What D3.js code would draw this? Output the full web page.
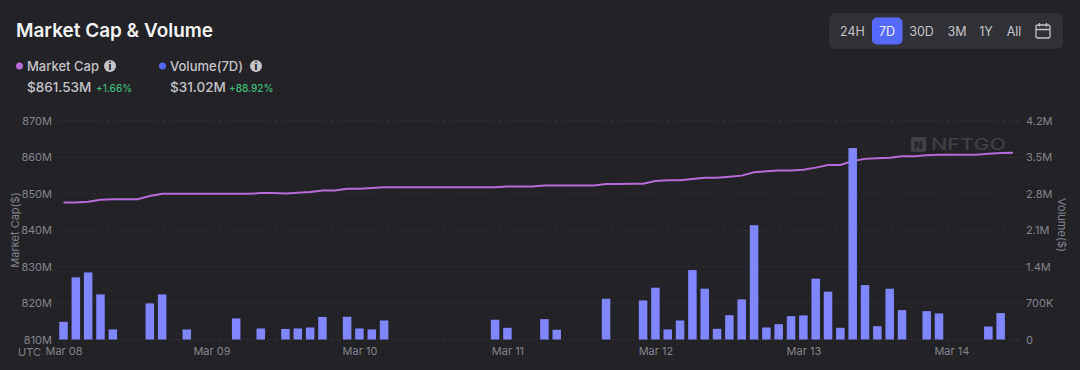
<!DOCTYPE html>
<html>
<head>
<meta charset="utf-8">
<script src="https://d3js.org/d3.v7.min.js"></script>
<style>
  html, body { margin: 0; padding: 0; background: #222227; overflow: hidden; }
  text { font-family: Inter, "Noto Sans", sans-serif; }
  .tick text { font-size: 11px; fill: #84848b; }
</style>
</head>
<body>
<div id="chart"></div>
<script>
// Values, one point every 2 hours
const dayLabels = ["Mar 08", "Mar 09", "Mar 10", "Mar 11", "Mar 12", "Mar 13", "Mar 14"];
const capTicks = [810, 820, 830, 840, 850, 860, 870];
const volTicks = [0, 700, 1400, 2100, 2800, 3500, 4200];
const ranges = ["24H", "7D", "30D", "3M", "1Y", "All"];

// market cap in $M
const marketCap = [
  847.6, 847.6, 847.8, 848.4, 848.5, 848.5, 848.5, 849.4, 850, 850, 850, 850,
  850, 850, 850, 850, 850.2, 850.2, 850.1, 850.3, 850.5, 850.9, 850.9, 851.4,
  851.4, 851.6, 851.8, 851.8, 851.8, 851.8, 851.8, 851.8, 851.8, 851.8, 851.8, 851.8,
  852, 852, 852, 852.3, 852.3, 852.3, 852.3, 852.3, 852.7, 852.7, 852.8, 852.8,
  853.5, 853.7, 853.7, 854.1, 854.4, 854.4, 854.7, 855, 855.9, 856.2, 856.4, 856.4,
  856.6, 857.2, 857.9, 857.9, 859, 859.6, 859.8, 859.9, 860.3, 860.3, 860.6, 860.7,
  860.7, 860.7, 860.7, 861, 861.2, 861.3
];

// volume in $K
const volume = [
  340, 1195, 1290, 867, 193, 0, 0, 694, 867, 0, 193, 0,
  0, 0, 405, 0, 212, 0, 202, 212, 231, 434, 0, 437,
  212, 193, 366, 0, 0, 0, 0, 0, 0, 0, 0, 380,
  225, 0, 0, 391, 187, 0, 0, 0, 784, 0, 0, 751,
  996, 193, 366, 1335, 977, 206, 468, 771, 2197, 231, 295, 449,
  462, 1170, 919, 225, 3680, 1046, 256, 977, 565, 0, 545, 501,
  0, 0, 0, 250, 507, 0
];

const width = 1080, height = 370;
const bg = "#222227", capColor = "#b86cd9", volColor = "#7f86ff", accent = "#5669ff";
const green = "#3fbf78", soft = "#c4c4c8";

const svg = d3.select("#chart").append("svg")
  .attr("width", width)
  .attr("height", height)
  .style("display", "block")
  .style("background", bg);

// Scales
const x = d3.scaleLinear().domain([0, marketCap.length - 1]).range([63.5, 1013]);
const yCap = d3.scaleLinear().domain([810, 870]).range([339.5, 121]);
const yVol = d3.scaleLinear().domain([0, 4200]).range([339.5, 121]);

// Grid
svg.append("g").selectAll("line")
  .data(capTicks)
  .join("line")
  .attr("x1", 57)
  .attr("x2", 1020)
  .attr("y1", d => yCap(d))
  .attr("y2", d => yCap(d))
  .attr("stroke", "#303037")
  .attr("stroke-dasharray", "4 3");

// Axes
const leftAxis = svg.append("g")
  .attr("transform", "translate(52,0)")
  .call(d3.axisLeft(yCap).tickValues(capTicks).tickSize(0).tickPadding(0).tickFormat(d => d + "M"));
leftAxis.select(".domain").remove();

const rightAxis = svg.append("g")
  .attr("transform", "translate(1026,0)")
  .call(d3.axisRight(yVol).tickValues(volTicks).tickSize(0).tickPadding(0)
    .tickFormat(d => d === 0 ? "0" : d < 1000 ? d + "K" : (d / 1000) + "M"));
rightAxis.select(".domain").remove();

const bottomAxis = svg.append("g")
  .attr("transform", "translate(0,347)")
  .call(d3.axisBottom(x).tickValues(dayLabels.map((d, i) => i * 12)).tickSize(0).tickPadding(0)
    .tickFormat((d, i) => dayLabels[i]));
bottomAxis.select(".domain").remove();

svg.append("text")
  .attr("x", 18).attr("y", 356)
  .attr("font-size", 11).attr("fill", "#84848b")
  .text("UTC");

svg.append("text")
  .attr("transform", "translate(19,230) rotate(-90)")
  .attr("text-anchor", "middle")
  .attr("font-size", 11).attr("fill", "#84848b")
  .text("Market Cap($)");

svg.append("text")
  .attr("transform", "translate(1058,225) rotate(90)")
  .attr("text-anchor", "middle")
  .attr("font-size", 11).attr("fill", "#84848b")
  .text("Volume($)");

// Watermark
const mark = svg.append("g").attr("opacity", 0.75);
mark.append("rect")
  .attr("x", 911).attr("y", 137).attr("width", 15).attr("height", 15).attr("rx", 2)
  .attr("fill", "#4a4a50");
mark.append("text")
  .attr("x", 918.5).attr("y", 149)
  .attr("text-anchor", "middle")
  .attr("font-size", 11).attr("font-weight", 800).attr("fill", "#222227")
  .text("N");
mark.append("text")
  .attr("x", 931).attr("y", 150)
  .attr("font-size", 15.5).attr("font-weight", 500)
  .attr("textLength", 75).attr("lengthAdjust", "spacingAndGlyphs")
  .attr("fill", "#4a4a50")
  .text("NFTGO");

// Market cap line
const capLine = d3.line()
  .x((d, i) => x(i))
  .y(d => yCap(d));

svg.append("path")
  .datum(marketCap)
  .attr("d", capLine)
  .attr("fill", "none")
  .attr("stroke", capColor)
  .attr("stroke-width", 2);

// Volume bars, drawn over the line like the original
svg.append("g").selectAll("rect")
  .data(volume)
  .join("rect")
  .attr("x", (d, i) => x(i) - 4.25)
  .attr("width", 8.5)
  .attr("y", d => yVol(d))
  .attr("height", d => yVol(0) - yVol(d))
  .attr("fill", volColor);

// Title and legend
svg.append("text")
  .attr("x", 16).attr("y", 37)
  .attr("font-size", 19).attr("font-weight", 600).attr("fill", "#f4f4f6")
  .attr("textLength", 197).attr("lengthAdjust", "spacingAndGlyphs")
  .text("Market Cap & Volume");

function infoIcon(cx, cy) {
  svg.append("circle").attr("cx", cx).attr("cy", cy).attr("r", 6).attr("fill", soft);
  svg.append("text")
    .attr("x", cx).attr("y", cy + 3.5)
    .attr("text-anchor", "middle")
    .attr("font-size", 10).attr("font-weight", 800).attr("fill", bg)
    .text("i");
}

function legend(dotX, textX, label, value, change, changeX, infoX, color) {
  svg.append("circle").attr("cx", dotX).attr("cy", 66).attr("r", 3.5).attr("fill", color);
  svg.append("text")
    .attr("x", textX).attr("y", 70.5)
    .attr("font-size", 13).attr("font-weight", 500).attr("fill", soft)
    .text(label);
  infoIcon(infoX, 66);
  svg.append("text")
    .attr("x", textX).attr("y", 92)
    .attr("font-size", 13.5).attr("font-weight", 500).attr("fill", soft)
    .text(value);
  svg.append("text")
    .attr("x", changeX).attr("y", 91.5)
    .attr("font-size", 10).attr("font-weight", 500).attr("fill", green)
    .text(change);
}

legend(19.5, 27, "Market Cap", "$861.53M", "+1.66%", 96, 110, capColor);
legend(162.5, 170, "Volume(7D)", "$31.02M", "+88.92%", 229, 256, accent);

// Range buttons
svg.append("rect")
  .attr("x", 829).attr("y", 13).attr("width", 234).attr("height", 36).attr("rx", 6)
  .attr("fill", "#303037");
svg.append("rect")
  .attr("x", 872).attr("y", 17.5).attr("width", 30.5).attr("height", 27).attr("rx", 5)
  .attr("fill", accent);

const rangeX = [852.5, 887, 921.5, 957, 986, 1014];
svg.append("g").selectAll("text")
  .data(ranges)
  .join("text")
  .attr("x", (d, i) => rangeX[i])
  .attr("y", 36)
  .attr("text-anchor", "middle")
  .attr("font-size", 12.5)
  .attr("fill", d => d === "7D" ? "#f0f0f5" : soft)
  .text(d => d);

// Calendar icon
const cal = svg.append("g")
  .attr("fill", "none").attr("stroke", soft).attr("stroke-width", 1.3);
cal.append("rect").attr("x", 1036).attr("y", 25).attr("width", 14).attr("height", 13).attr("rx", 2);
cal.append("path").attr("d", "M1036 29.5H1050M1039.5 23V26.5M1046.5 23V26.5");
</script>
</body>
</html>
